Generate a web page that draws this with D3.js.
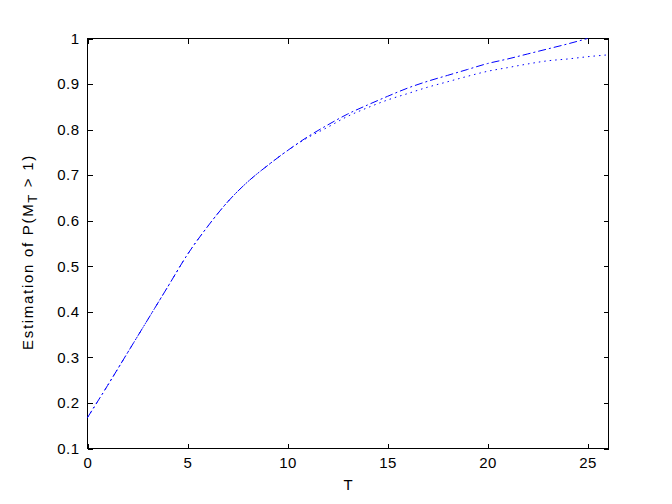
<!DOCTYPE html>
<meta charset="utf-8">
<style>
body, html {
  margin: 0;
  padding: 0;
  background: #fff;
}
text {
  font: 15px "Liberation Sans", Arial, Helvetica, sans-serif;
  fill: #000;
}
.axis path, .axis line {
  stroke: #000;
  shape-rendering: crispEdges;
}
.series {
  fill: none;
  stroke: #0000ff;
  stroke-width: 1;
}
</style>
<div id="chart"></div>
<script src="https://d3js.org/d3.v7.min.js"></script>
<script>
const width = 672
const height = 504

// estimated probability for each horizon T
const tDash = d3.range(0, 26)
const pDash = [0.168, 0.238, 0.310, 0.382, 0.454, 0.526, 0.587, 0.641, 0.685, 0.721,
               0.754, 0.784, 0.810, 0.834, 0.854, 0.873, 0.891, 0.906, 0.919, 0.932,
               0.945, 0.955, 0.966, 0.977, 0.988, 1.000]
const tDot = d3.range(0, 27)
const pDot = [0.168, 0.238, 0.310, 0.382, 0.454, 0.526, 0.587, 0.641, 0.685, 0.721,
              0.754, 0.782, 0.805, 0.829, 0.848, 0.865, 0.879, 0.893, 0.905, 0.917,
              0.928, 0.936, 0.944, 0.951, 0.955, 0.960, 0.964]
const xTicks = [0, 5, 10, 15, 20, 25]
const yTicks = [0.1, 0.2, 0.3, 0.4, 0.5, 0.6, 0.7, 0.8, 0.9, 1]

const mLeft = 87.5, mRight = 608.5, mTop = 38.5, mBottom = 448.5

let svg = d3.select("#chart")
            .append("svg")
            .attr("width", width)
            .attr("height", height)

let x = d3.scaleLinear().domain([0, 26]).range([mLeft, mLeft + 520])
let y = d3.scaleLinear().domain([0.1, 1]).range([mBottom, mTop])

const fmt = d => d === 1 ? "1" : d3.format(".1f")(d)

// box with inward ticks on all four sides
svg.append("g").attr("class", "axis")
   .attr("transform", "translate(0," + mBottom + ")")
   .call(d3.axisBottom(x).tickValues(xTicks).tickSizeInner(-5).tickSizeOuter(0).tickPadding(9))
svg.append("g").attr("class", "axis")
   .attr("transform", "translate(0," + mTop + ")")
   .call(d3.axisTop(x).tickValues(xTicks).tickSizeInner(-5).tickSizeOuter(0).tickFormat(""))
svg.append("g").attr("class", "axis")
   .attr("transform", "translate(" + mLeft + ",0)")
   .call(d3.axisLeft(y).tickValues(yTicks).tickFormat(fmt).tickSizeInner(-5).tickSizeOuter(0).tickPadding(8))
svg.append("g").attr("class", "axis")
   .attr("transform", "translate(" + mRight + ",0)")
   .call(d3.axisRight(y).tickValues(yTicks).tickSizeInner(-5).tickSizeOuter(0).tickFormat(""))

svg.selectAll(".axis path").attr("d", null)
svg.append("rect")
   .attr("x", mLeft).attr("y", mTop)
   .attr("width", mRight - mLeft).attr("height", mBottom - mTop)
   .attr("fill", "none").attr("stroke", "#000")
   .style("shape-rendering", "crispEdges")

svg.selectAll(".axis text")
   .style("font-size", "15px")
   .style("font-family", "'Liberation Sans', Arial, sans-serif")
   .style("letter-spacing", "0.5px")

let line = d3.line()
  .x(d => x(d[0]))
  .y(d => y(d[1]))
  .curve(d3.curveMonotoneX)

svg.append("path")
   .attr("class", "series")
   .attr("d", line(d3.zip(tDot, pDot)))
   .attr("stroke-dasharray", "1.5,4")

svg.append("path")
   .attr("class", "series")
   .attr("d", line(d3.zip(tDash, pDash)))
   .attr("stroke-dasharray", "8,3,2,3")

// axis labels
svg.append("text")
   .attr("x", (mLeft + mRight) / 2)
   .attr("y", 490)
   .attr("text-anchor", "middle")
   .text("T")

// MATLAB's screen font is wide, so space the letters out a bit
let yl = svg.append("text")
   .style("font-size", "15px")
   .style("letter-spacing", "1.7px")
yl.append("tspan").text("Estimation of P(M")
yl.append("tspan").attr("dy", 4).style("font-size", "13px").text("T")
yl.append("tspan").attr("dy", -4).text(" > 1)")
let len = yl.node().getComputedTextLength()
yl.attr("transform", "translate(33,252) rotate(-90)")
  .attr("x", -len / 2)
</script>
